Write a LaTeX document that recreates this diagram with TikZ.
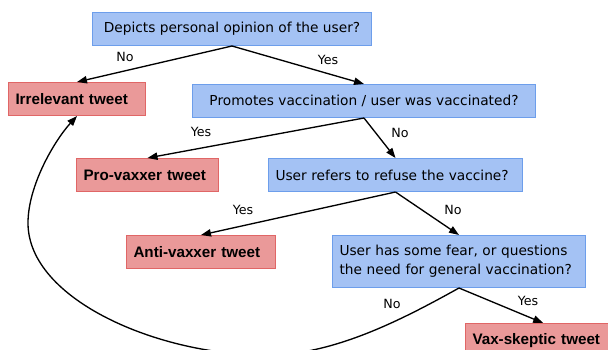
\documentclass[tikz,border=0pt]{standalone}
\usepackage{fontspec}
\setmainfont{DejaVu Sans}
\newfontfamily\verdictfont{Liberation Sans}
\usetikzlibrary{arrows.meta}
\definecolor{qfill}{HTML}{A4C2F4}
\definecolor{qline}{HTML}{6D9EEB}
\definecolor{vfill}{HTML}{EA9999}
\definecolor{vline}{HTML}{E06666}
\tikzset{
	question/.style={draw=qline, fill=qfill, line width=0.75pt, anchor=north west, minimum height=24.75pt, inner xsep=5.25pt, font=\fontsize{10.3}{14.25}\selectfont},
	verdict/.style={draw=vline, fill=vfill, line width=0.75pt, anchor=north west, minimum height=24.75pt, inner xsep=5.25pt, align=left, text width=#1, font=\verdictfont\bfseries\fontsize{11.4}{13}\selectfont},
	answer/.style={inner sep=0pt, font=\fontsize{9.5}{11}\selectfont},
	flow/.style={line width=1pt, -{Triangle[length=7.5pt,width=5.5pt]}}
}
\begin{document}
\begin{tikzpicture}[x=0.75pt,y=-0.75pt]
	\useasboundingbox (0,0) rectangle (608,350);
	\node [question, minimum width=209.25pt] (opinion) at (92,12) {Depicts personal opinion of the user?};
	\node [verdict=92.25pt] (irrelevant) at (8,82) {Irrelevant tweet};
	\node [question, minimum width=257.25pt] (promotes) at (192,84) {Promotes vaccination / user was vaccinated?};
	\node [verdict=96pt] (pro) at (76,158) {Pro-vaxxer tweet};
	\node [question, align=left, text width=180pt] (refuse) at (268,158) {User refers to refuse the vaccine?};
	\node [verdict=101.25pt] (anti) at (126,235) {Anti-vaxxer tweet};
	\node [question, align=left, text width=179.25pt, minimum height=39pt] (fear) at (332,235) {User has some fear, or questions\\the need for general vaccination?};
	\node [verdict=106pt, minimum height=26.25pt] (skeptic) at (465,323) {Vax-skeptic tweet};
	\coordinate (bottom) at (268,355);
	\coordinate (bend) at (28,223);
	\draw [flow] (opinion.south) -- (irrelevant.north);
	\draw [flow] (opinion.south) -- (promotes.north);
	\draw [flow] (promotes.south) -- (pro.north);
	\draw [flow] (promotes.south) -- (refuse.north);
	\draw [flow] (refuse.south) -- (anti.north);
	\draw [flow] (refuse.south) -- (fear.north);
	\draw [flow] (fear.south) -- (skeptic.north);
	\draw [flow] (fear.south) .. controls (405,318) and (335,355) .. (bottom) .. controls (160,356) and (28,300) .. (bend) .. controls (28,185) and (55,140) .. (irrelevant.south);
	\node [answer] (noA) at (125,57) {No};
	\node [answer] (yesA) at (328,60) {Yes};
	\node [answer] (yesB) at (201,132) {Yes};
	\node [answer] (noB) at (400,133) {No};
	\node [answer] (yesC) at (243,210) {Yes};
	\node [answer] (noC) at (453,210) {No};
	\node [answer] (yesD) at (528,301) {Yes};
	\node [answer] (noD) at (392,304) {No};
\end{tikzpicture}
\end{document}
